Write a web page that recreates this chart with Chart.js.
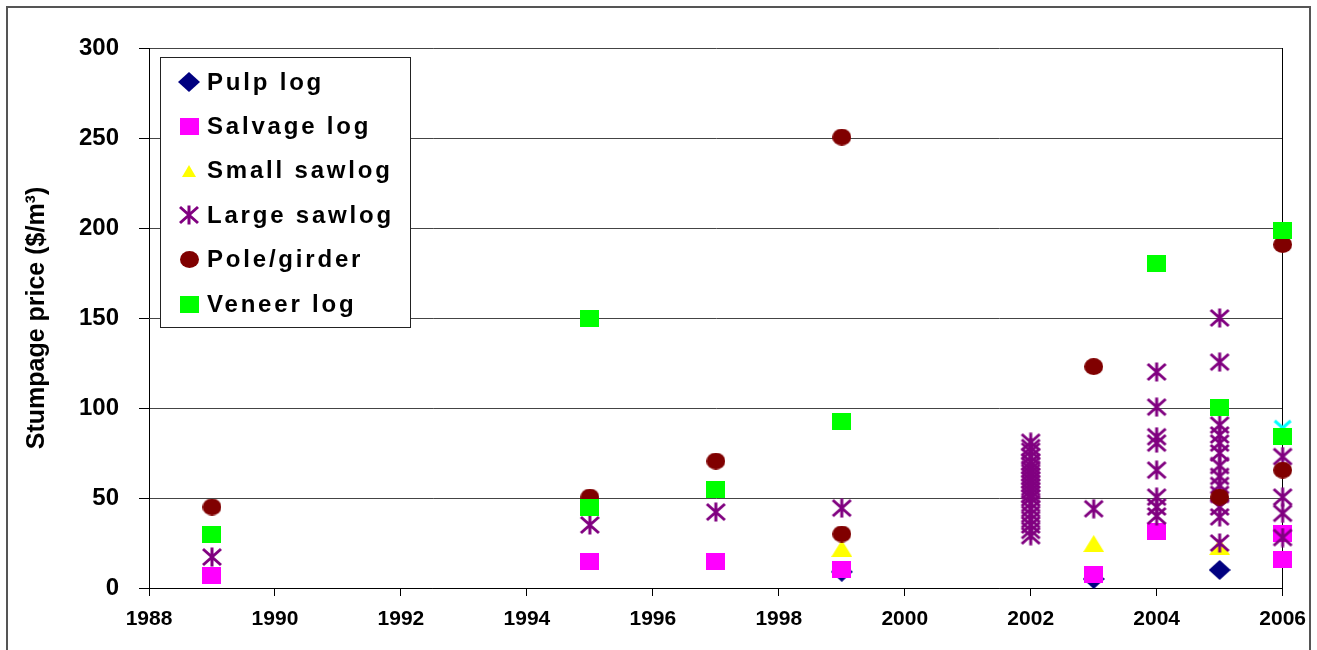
<!DOCTYPE html>
<html>
<head>
<meta charset="utf-8">
<script src="https://cdn.jsdelivr.net/npm/chart.js@4.4.0/dist/chart.umd.min.js"></script>
<style>
html,body{margin:0;padding:0;background:#fff;}
#wrap{width:1317px;height:650px;position:relative;}
</style>
</head>
<body>
<div id="wrap"><canvas id="c" width="1317" height="650"></canvas></div>
<script>
// ---------- data ----------
const xTickValues = [1988, 1990, 1992, 1994, 1996, 1998, 2000, 2002, 2004, 2006];
const xTickLabels = ['1988', '1990', '1992', '1994', '1996', '1998', '2000', '2002', '2004', '2006'];
const yTickValues = [0, 50, 100, 150, 200, 250, 300];
const yTickLabels = ['0', '50', '100', '150', '200', '250', '300'];
const yAxisTitle = 'Stumpage price ($/m\u00B3)';

const seriesNames = ['Pulp log', 'Salvage log', 'Small sawlog', 'Large sawlog', 'Pole/girder', 'Veneer log'];

const pulpLog = [[1999, 9], [2003, 5], [2005, 10]];
const salvageLog = [[1989, 7], [1995, 15], [1997, 15], [1999, 10.3], [2003, 7.5], [2004, 31.5], [2006, 30.3], [2006, 16]];
const smallSawlog = [[1999, 22], [2003, 24.7], [2005, 23]];
const largeSawlog = [
  [1989, 17.2], [1995, 35], [1997, 42.2], [1999, 44.4],
  [2002, 81], [2002, 78], [2002, 76], [2002, 73], [2002, 70], [2002, 68], [2002, 66], [2002, 64],
  [2002, 62], [2002, 60], [2002, 58], [2002, 56], [2002, 54], [2002, 52], [2002, 50], [2002, 47],
  [2002, 44], [2002, 41], [2002, 38], [2002, 35], [2002, 32], [2002, 29],
  [2003, 44],
  [2004, 120], [2004, 100.5], [2004, 84], [2004, 80.5], [2004, 65.5], [2004, 50.5], [2004, 45], [2004, 40],
  [2005, 150], [2005, 125.5], [2005, 90.5], [2005, 85], [2005, 80.5], [2005, 75], [2005, 68], [2005, 62],
  [2005, 57], [2005, 52], [2005, 45], [2005, 39.5], [2005, 25],
  [2006, 73], [2006, 50.5], [2006, 41.5], [2006, 28]
];
const poleGirder = [[1989, 45], [1995, 50.5], [1997, 70.5], [1999, 250.5], [1999, 30], [2003, 123], [2005, 50.5], [2006, 190.8], [2006, 65.5]];
const veneerLog = [[1989, 30], [1995, 150], [1995, 45], [1997, 55], [1999, 92.5], [2004, 180.5], [2005, 100.5], [2006, 198.5], [2006, 84]];
const unlabeledSeries = [[2006, 89]];

// ---------- marker images ----------
function mk(w, h, draw) {
  const c = document.createElement('canvas');
  c.width = w; c.height = h;
  const g = c.getContext('2d');
  draw(g, w, h);
  return c;
}
const mDiamond = mk(22, 20, (g, w, h) => { g.fillStyle = '#000080'; g.beginPath(); g.moveTo(w/2, 0); g.lineTo(w, h/2); g.lineTo(w/2, h); g.lineTo(0, h/2); g.closePath(); g.fill(); });
const mSalvage = mk(19, 17, (g, w, h) => { g.fillStyle = '#FF00FF'; g.fillRect(0, 0, w, h); });
const mTriangle = mk(21, 17, (g, w, h) => { g.fillStyle = '#FFFF00'; g.beginPath(); g.moveTo(w/2, 0); g.lineTo(w, h); g.lineTo(0, h); g.closePath(); g.fill(); });
const mTriangleLeg = mk(14, 12, (g, w, h) => { g.fillStyle = '#FFFF00'; g.beginPath(); g.moveTo(w/2, 0); g.lineTo(w, h); g.lineTo(0, h); g.closePath(); g.fill(); });
const mStar = mk(22, 20, (g, w, h) => { g.strokeStyle = '#800080'; g.lineWidth = 3; g.beginPath(); g.moveTo(2, 2); g.lineTo(w-2, h-2); g.moveTo(w-2, 2); g.lineTo(2, h-2); g.moveTo(w/2, 0.5); g.lineTo(w/2, h-0.5); g.stroke(); });
const mCross = mk(20, 18, (g, w, h) => { g.strokeStyle = '#00FFFF'; g.lineWidth = 3; g.beginPath(); g.moveTo(2, 2); g.lineTo(w-2, h-2); g.moveTo(w-2, 2); g.lineTo(2, h-2); g.stroke(); });
const mCircle = mk(19, 17, (g, w, h) => { g.fillStyle = '#800000'; g.beginPath(); g.ellipse(w/2, h/2, w/2, h/2, 0, 0, Math.PI*2); g.fill(); });
const mVeneer = mk(19, 17, (g, w, h) => { g.fillStyle = '#00FF00'; g.fillRect(0, 0, w, h); });

const legendMarkers = [mDiamond, mSalvage, mTriangleLeg, mStar, mCircle, mVeneer];

const toPts = arr => arr.map(([x, y]) => ({x, y}));
const FONT = '"Liberation Sans", Arial, Helvetica, sans-serif';

function ds(label, arr, img, order) {
  return { label, data: toPts(arr), pointStyle: img, pointRadius: 10, pointHoverRadius: 10, order, clip: false, showLine: false };
}

const datasets = [
  ds(seriesNames[0], pulpLog, mDiamond, 7),
  ds(seriesNames[1], salvageLog, mSalvage, 6),
  ds(seriesNames[2], smallSawlog, mTriangle, 5),
  ds('', unlabeledSeries, mCross, 4),
  ds(seriesNames[3], largeSawlog, mStar, 3),
  ds(seriesNames[4], poleGirder, mCircle, 2),
  ds(seriesNames[5], veneerLog, mVeneer, 1)
];

const framePlugin = {
  id: 'frame',
  beforeDraw(chart) {
    const g = chart.ctx;
    g.save();
    g.fillStyle = '#fff';
    g.fillRect(0, 0, chart.width, chart.height);
    g.strokeStyle = '#555';
    g.lineWidth = 2;
    g.strokeRect(7, 7, chart.width - 14, chart.height + 20);
    g.restore();
  },
  beforeDatasetsDraw(chart) {
    const g = chart.ctx, a = chart.chartArea;
    g.save();
    g.strokeStyle = '#000';
    g.lineWidth = 1;
    const xr = Math.round(a.right) - 0.5;
    g.beginPath(); g.moveTo(xr, a.top); g.lineTo(xr, a.bottom); g.stroke();
    g.restore();
  },
  afterDatasetsDraw(chart) {
    const g = chart.ctx, a = chart.chartArea;
    const bx = a.left + 11, by = a.top + 9, bw = 251, bh = 271;
    g.save();
    g.fillStyle = '#fff';
    g.fillRect(bx, by, bw, bh);
    g.strokeStyle = '#222';
    g.lineWidth = 1;
    g.strokeRect(bx + 0.5, by + 0.5, bw - 1, bh - 1);
    g.font = 'bold 24px ' + FONT;
    g.fillStyle = '#000';
    g.textBaseline = 'middle';
    g.textAlign = 'left';
    try { g.letterSpacing = '2.8px'; } catch (e) {}
    seriesNames.forEach((name, i) => {
      const cy = by + 25 + i * 44.4;
      const img = legendMarkers[i];
      g.drawImage(img, Math.round(bx + 29 - img.width / 2), Math.round(cy - img.height / 2));
      g.fillText(name, bx + 47, cy + 1);
    });
    try { g.letterSpacing = '0px'; } catch (e) {}
    g.restore();
  }
};

new Chart(document.getElementById('c'), {
  type: 'scatter',
  data: { datasets },
  plugins: [framePlugin],
  options: {
    responsive: false,
    animation: false,
    events: [],
    layout: { padding: { left: 0, right: 33, top: 48, bottom: 0 } },
    plugins: { legend: { display: false }, tooltip: { enabled: false } },
    scales: {
      x: {
        type: 'linear', min: 1988, max: 2006,
        afterBuildTicks(s) { s.ticks = xTickValues.map(v => ({ value: v })); },
        ticks: {
          callback: (v) => xTickLabels[xTickValues.indexOf(v)] ?? '',
          font: { family: FONT, size: 21, weight: 'bold' }, color: '#000',
          padding: 11, maxRotation: 0, autoSkip: false
        },
        grid: { drawOnChartArea: false, drawTicks: true, tickLength: 8, tickColor: '#000', color: '#000' },
        border: { color: '#000', width: 1 },
        afterFit(s) { s.height = 62; }
      },
      y: {
        min: 0, max: 300,
        afterBuildTicks(s) { s.ticks = yTickValues.map(v => ({ value: v })); },
        ticks: {
          callback: (v) => yTickLabels[yTickValues.indexOf(v)] ?? '',
          font: { family: FONT, size: 24, weight: 'bold' }, color: '#000', padding: 20
        },
        grid: { color: '#444', lineWidth: 1, tickColor: '#000', tickLength: 10 },
        border: { color: '#000', width: 1 },
        title: {
          display: true, text: yAxisTitle, color: '#000',
          font: { family: FONT, size: 25, weight: 'bold' },
          padding: { top: 22, bottom: 0 }
        },
        afterFit(s) { s.width = 149; }
      }
    }
  }
});
</script>
</body>
</html>
